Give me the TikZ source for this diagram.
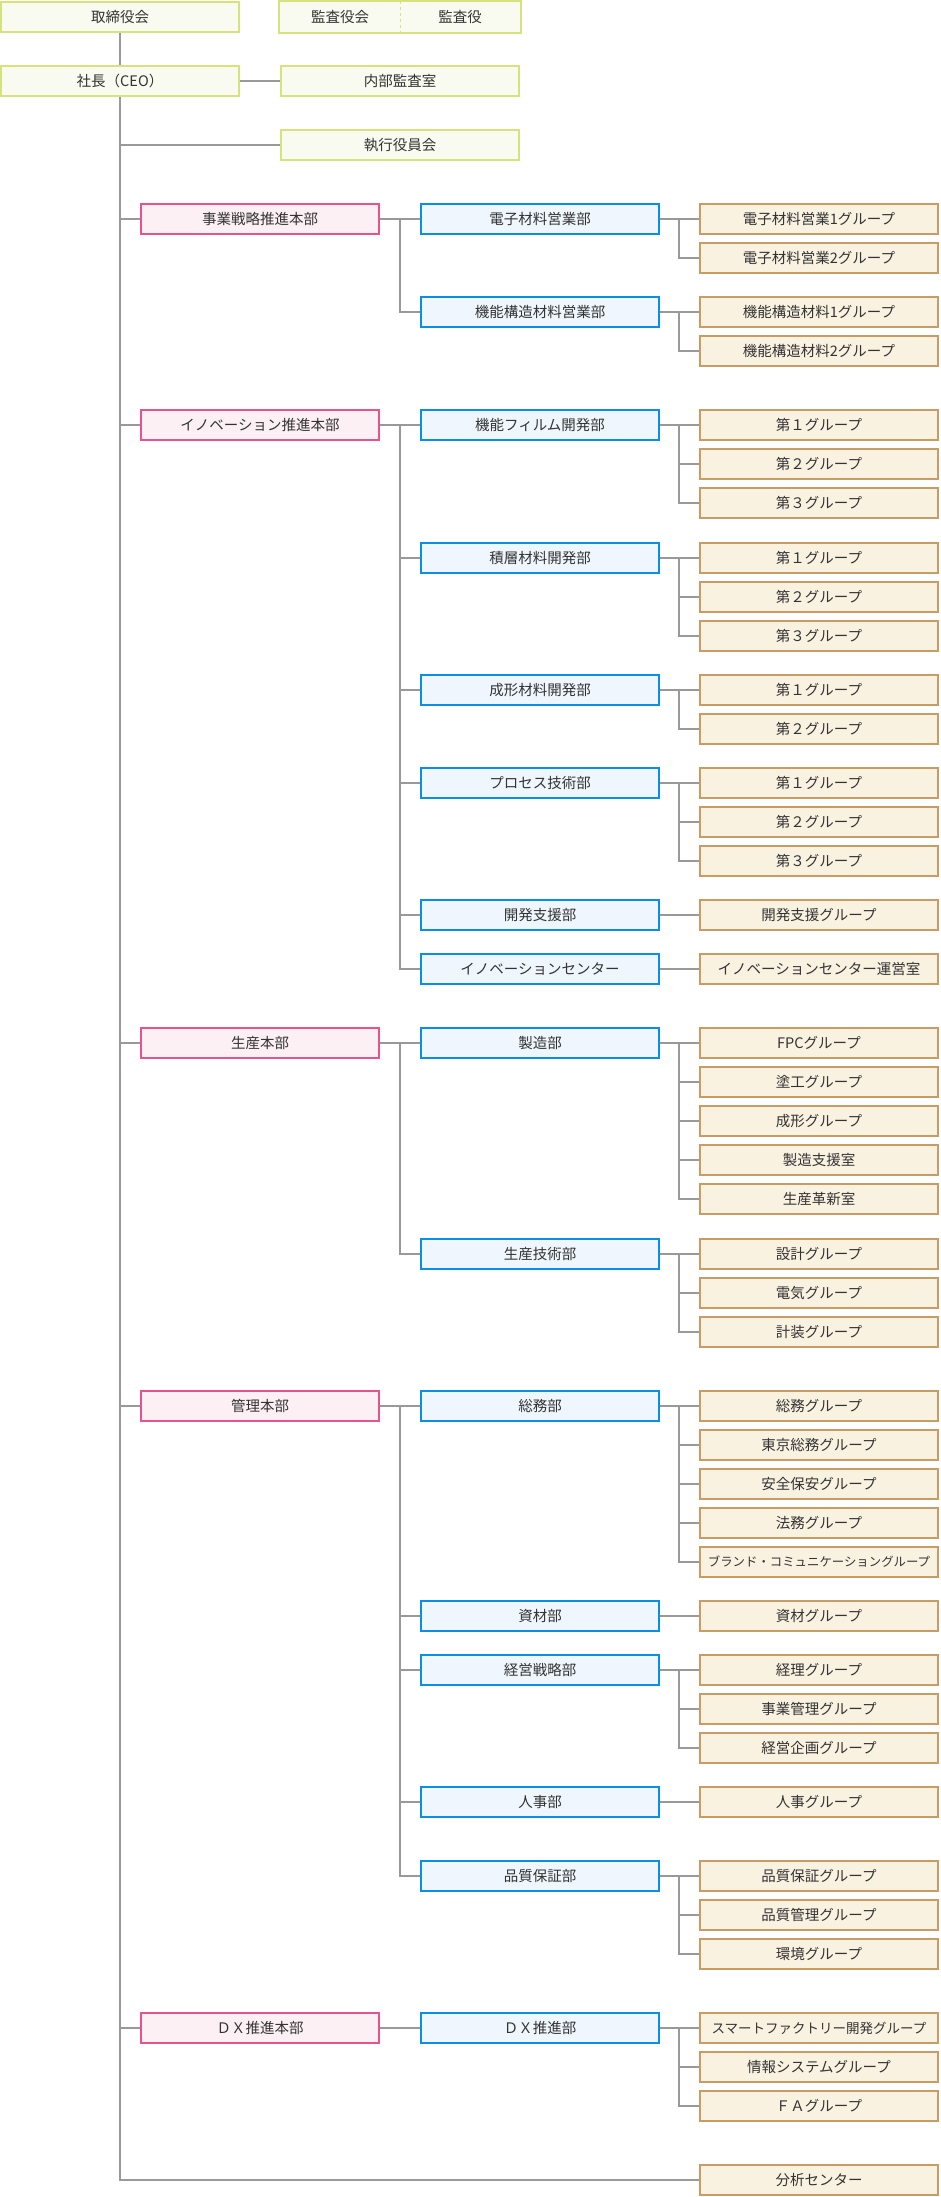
\documentclass[tikz,border=0pt]{standalone}
\usepackage{fontspec}
\setmainfont{Noto Sans CJK JP}
\usepackage{tikz}
\usetikzlibrary{positioning}
\definecolor{linegray}{RGB}{153,153,153}
\definecolor{textgray}{RGB}{51,51,51}
\definecolor{topline}{RGB}{213,226,125}
\definecolor{topfill}{RGB}{250,251,240}
\definecolor{honbuline}{RGB}{230,84,140}
\definecolor{honbufill}{RGB}{252,240,244}
\definecolor{buline}{RGB}{10,143,232}
\definecolor{bufill}{RGB}{239,246,253}
\definecolor{grpline}{RGB}{201,156,102}
\definecolor{grpfill}{RGB}{250,242,225}
\tikzset{
	box/.style={line width=1.7pt, minimum width=238pt, minimum height=30.5pt, inner sep=0pt,
		text=textgray, font=\fontsize{14.5}{17}\selectfont},
	topbox/.style={box, draw=topline, fill=topfill},
	honbu/.style={box, draw=honbuline, fill=honbufill},
	bubox/.style={box, draw=buline, fill=bufill},
	grp/.style={box, draw=grpline, fill=grpfill},
	link/.style={draw=linegray, line width=1.7pt},
}
\newcommand{\grpcol}[3]{% {department}{first y}{group labels}
	\foreach \lab [count=\i] in {#3} {
		\node[grp] (#1-\i) at (819,{#2+39*(\i-1)}) {\lab};
		\draw[link] (#1-\i.west) -- ++(-20,0) |- (#1.east);
	}
}
\newcommand{\smalltxt}[2]{{\fontsize{#1}{#1}\selectfont #2}}

\begin{document}
\begin{tikzpicture}[x=1pt,y=-1pt]
	\useasboundingbox (0,0) rectangle (940,2197);

	% top management
	\node[topbox] (torishimari) at (120,17) {取締役会};
	\node[topbox, draw=none, minimum width=120pt] (kansakai) at (340,17) {監査役会};
	\node[topbox, draw=none, minimum width=120pt] (kansayaku) at (460,17) {監査役};
	\draw[topline, line width=1.7pt] (kansakai.north west) rectangle (kansayaku.south east);
	\draw[topline, line width=1.2pt, dashed] (kansakai.north east) -- (kansakai.south east);
	\node[topbox] (shacho) at (120,81) {社長（CEO）};
	\node[topbox] (naibu) at (400,81) {内部監査室};
	\node[topbox] (shikko) at (400,145) {執行役員会};
	\node[grp] (bunseki) at (819,2180) {分析センター};

	\draw[link] (torishimari.south) -- (shacho.north);
	\draw[link] (shacho.east) -- (naibu.west);
	\draw[link] (shacho.south) |- (bunseki.west);
	\draw[link] (shikko.west) -- (shikko.west -| shacho.south);

	% headquarters
	\node[honbu] (jigyo) at (260,219) {事業戦略推進本部};
	\node[honbu] (inov) at (260,425) {イノベーション推進本部};
	\node[honbu] (seisan) at (260,1043) {生産本部};
	\node[honbu] (kanri) at (260,1406) {管理本部};
	\node[honbu] (dxh) at (260,2028) {ＤＸ推進本部};
	\foreach \h in {jigyo,inov,seisan,kanri,dxh}
		\draw[link] (\h.west) -- ++(-20,0);

	% departments
	\node[bubox] (denshi) at (540,219) {電子材料営業部};
	\node[bubox] (kinokozo) at (540,312) {機能構造材料営業部};
	\node[bubox] (film) at (540,425) {機能フィルム開発部};
	\node[bubox] (sekiso) at (540,558) {積層材料開発部};
	\node[bubox] (seikei) at (540,690) {成形材料開発部};
	\node[bubox] (process) at (540,783) {プロセス技術部};
	\node[bubox] (kaihatsu) at (540,915) {開発支援部};
	\node[bubox] (icenter) at (540,969) {イノベーションセンター};
	\node[bubox] (seizo) at (540,1043) {製造部};
	\node[bubox] (seigi) at (540,1254) {生産技術部};
	\node[bubox] (somu) at (540,1406) {総務部};
	\node[bubox] (shizai) at (540,1616) {資材部};
	\node[bubox] (keiei) at (540,1670) {経営戦略部};
	\node[bubox] (jinji) at (540,1802) {人事部};
	\node[bubox] (hinsho) at (540,1876) {品質保証部};
	\node[bubox] (dxb) at (540,2028) {ＤＸ推進部};

	\foreach \b in {denshi,kinokozo}
		\draw[link] (\b.west) -- ++(-20,0) |- (jigyo.east);
	\foreach \b in {film,sekiso,seikei,process,kaihatsu,icenter}
		\draw[link] (\b.west) -- ++(-20,0) |- (inov.east);
	\foreach \b in {seizo,seigi}
		\draw[link] (\b.west) -- ++(-20,0) |- (seisan.east);
	\foreach \b in {somu,shizai,keiei,jinji,hinsho}
		\draw[link] (\b.west) -- ++(-20,0) |- (kanri.east);
	\draw[link] (dxh.east) -- (dxb.west);

	% groups
	\grpcol{denshi}{219}{電子材料営業1グループ,電子材料営業2グループ}
	\grpcol{kinokozo}{312}{機能構造材料1グループ,機能構造材料2グループ}
	\grpcol{film}{425}{第１グループ,第２グループ,第３グループ}
	\grpcol{sekiso}{558}{第１グループ,第２グループ,第３グループ}
	\grpcol{seikei}{690}{第１グループ,第２グループ}
	\grpcol{process}{783}{第１グループ,第２グループ,第３グループ}
	\grpcol{kaihatsu}{915}{開発支援グループ}
	\grpcol{icenter}{969}{イノベーションセンター運営室}
	\grpcol{seizo}{1043}{FPCグループ,塗工グループ,成形グループ,製造支援室,生産革新室}
	\grpcol{seigi}{1254}{設計グループ,電気グループ,計装グループ}
	\grpcol{somu}{1406}{総務グループ,東京総務グループ,安全保安グループ,法務グループ,\smalltxt{12.4}{ブランド・コミュニケーショングループ}}
	\grpcol{shizai}{1616}{資材グループ}
	\grpcol{keiei}{1670}{経理グループ,事業管理グループ,経営企画グループ}
	\grpcol{jinji}{1802}{人事グループ}
	\grpcol{hinsho}{1876}{品質保証グループ,品質管理グループ,環境グループ}
	\grpcol{dxb}{2028}{\smalltxt{13.5}{スマートファクトリー開発グループ},情報システムグループ,ＦＡグループ}
\end{tikzpicture}
\end{document}
